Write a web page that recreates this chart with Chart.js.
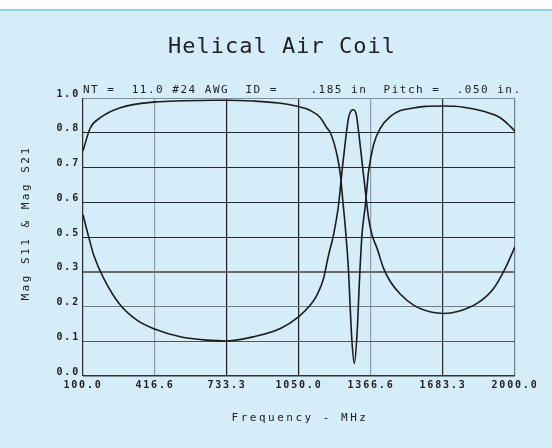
<!DOCTYPE html>
<html>
<head>
<meta charset="utf-8">
<script src="https://cdn.jsdelivr.net/npm/chart.js@4"></script>
<style>
    body { margin: 0; background: #d5ecf9; }
    canvas { display: block; }
</style>
</head>
<body>
<canvas id="coilChart" width="552" height="448"></canvas>
<script>
// Axis ticks (labels truncated to one decimal, as the plotter printed them)
const xTickLabels = ['100.0', '416.6', '733.3', '1050.0', '1366.6', '1683.3', '2000.0'];
const yTickLabels = ['0.0', '0.1', '0.2', '0.3', '0.5', '0.6', '0.7', '0.8', '1.0'];
const xMin = 100, xMax = 2000;
const yMin = 0, yMax = 1;

// Mag S21 (transmission)
const freqS21 = [100, 132, 176, 264, 418, 540, 673, 735, 850, 960, 1043, 1100, 1144, 1173, 1188,
    1217, 1232, 1243, 1254, 1268, 1276, 1283, 1293, 1305, 1317, 1327, 1342, 1356, 1378, 1408,
    1452, 1496, 1539, 1605, 1685, 1774, 1862, 1935, 1979, 2000];
const magS21 = [0.81, 0.892, 0.929, 0.965, 0.986, 0.990, 0.992, 0.992, 0.989, 0.982, 0.970, 0.955, 0.929, 0.892, 0.875,
    0.796, 0.724, 0.628, 0.532, 0.375, 0.231, 0.123, 0.045, 0.147, 0.363, 0.508, 0.616, 0.736, 0.832, 0.892,
    0.934, 0.955, 0.962, 0.970, 0.971, 0.967, 0.952, 0.929, 0.898, 0.880];

// Mag S11 (reflection)
const freqS11 = [100, 125, 147, 191, 264, 337, 418, 528, 645, 733, 850, 968, 1048, 1100, 1129,
    1158, 1180, 1202, 1224, 1239, 1254, 1268, 1280, 1289, 1302, 1312, 1327, 1342, 1356, 1371,
    1393, 1422, 1452, 1496, 1554, 1635, 1686, 1752, 1833, 1906, 1957, 2000];
const magS11 = [0.58, 0.50, 0.435, 0.351, 0.255, 0.201, 0.168, 0.141, 0.129, 0.126, 0.141, 0.171, 0.213, 0.255, 0.291,
    0.351, 0.435, 0.508, 0.616, 0.736, 0.844, 0.929, 0.955, 0.958, 0.940, 0.880, 0.772, 0.664, 0.568, 0.508,
    0.460, 0.387, 0.339, 0.294, 0.255, 0.229, 0.225, 0.233, 0.261, 0.315, 0.387, 0.465];

const xGridColors = ['#2a2a2a', '#8c9ea8', '#1e1e1e', '#1e1e1e', '#8c9ea8', '#2a2a2a', '#6f7f88'];
const yGridColors = ['#333333', '#555555', '#7a7a7a', '#6a6a6a', '#2a2a2a', '#2a2a2a', '#2a2a2a', '#2a2a2a', '#7f8f99'];
const yGridWidths = [1.5, 1, 1, 2, 1, 1, 1, 1, 1];

const toPoints = (xs, ys) => xs.map((x, i) => ({ x: x, y: ys[i] }));
const evenTicks = (labels, min, max) => labels.map((_, i) => ({ value: min + i * (max - min) / (labels.length - 1) }));

const monoFont = '"DejaVu Sans Mono", "Liberation Mono", monospace';

const backdrop = {
    id: 'backdrop',
    beforeDraw(chart) {
        const ctx = chart.ctx;
        ctx.save();
        ctx.fillStyle = '#d5ecf9';
        ctx.fillRect(0, 0, chart.width, chart.height);
        ctx.fillStyle = '#ffffff';
        ctx.fillRect(0, 0, chart.width, 9);
        ctx.fillStyle = '#7dd3f0';
        ctx.fillRect(0, 9, chart.width, 2);
        ctx.restore();
        // spaced-out plotter lettering for the tick labels
        ctx.letterSpacing = '1.8px';
    }
};

const captions = {
    id: 'captions',
    afterDraw(chart) {
        const ctx = chart.ctx;
        ctx.save();
        ctx.fillStyle = '#222222';

        ctx.font = '22px ' + monoFont;
        ctx.letterSpacing = '1px';
        ctx.textAlign = 'center';
        ctx.textBaseline = 'alphabetic';
        ctx.fillText('Helical Air Coil', 282, 53);

        ctx.font = '11px ' + monoFont;
        ctx.letterSpacing = '1.5px';
        ctx.textAlign = 'left';
        ctx.textBaseline = 'middle';
        ctx.fillText('NT =  11.0 #24 AWG  ID =    .185 in  Pitch =  .050 in.', 83, 90);

        ctx.letterSpacing = '2.5px';
        ctx.textAlign = 'center';
        ctx.fillText('Frequency - MHz', 300, 418);

        ctx.translate(26, 223);
        ctx.rotate(-Math.PI / 2);
        ctx.fillText('Mag S11 & Mag S21', 0, 0);
        ctx.restore();
    }
};

const lineStyle = {
    showLine: true,
    borderColor: '#1c1c1c',
    borderWidth: 1.6,
    pointRadius: 0,
    fill: false,
    cubicInterpolationMode: 'monotone'
};

new Chart(document.getElementById('coilChart'), {
    type: 'scatter',
    data: {
        datasets: [
            { label: 'Mag S21', data: toPoints(freqS21, magS21), ...lineStyle },
            { label: 'Mag S11', data: toPoints(freqS11, magS11), ...lineStyle }
        ]
    },
    options: {
        responsive: false,
        animation: false,
        layout: { padding: { top: 98, right: 37, left: 0, bottom: 0 } },
        plugins: {
            legend: { display: false },
            tooltip: { enabled: false }
        },
        scales: {
            x: {
                type: 'linear',
                min: xMin,
                max: xMax,
                afterBuildTicks: scale => { scale.ticks = evenTicks(xTickLabels, xMin, xMax); },
                afterFit: scale => { scale.height = 72; },
                border: { display: false },
                grid: {
                    drawTicks: false,
                    color: ctx => xGridColors[ctx.index] || '#333',
                    lineWidth: 1.2
                },
                ticks: {
                    autoSkip: false,
                    maxRotation: 0,
                    padding: 3,
                    color: '#222222',
                    font: { family: monoFont, size: 10, weight: 'bold' },
                    callback: (v, i) => xTickLabels[i]
                }
            },
            y: {
                min: yMin,
                max: yMax,
                afterBuildTicks: scale => { scale.ticks = evenTicks(yTickLabels, yMin, yMax); },
                afterFit: scale => { scale.width = 83; },
                border: { display: false },
                grid: {
                    drawTicks: false,
                    color: ctx => yGridColors[ctx.index] || '#333',
                    lineWidth: ctx => yGridWidths[ctx.index] || 1
                },
                ticks: {
                    autoSkip: false,
                    padding: 3,
                    labelOffset: -4,
                    color: '#222222',
                    font: { family: monoFont, size: 10, weight: 'bold' },
                    callback: (v, i) => yTickLabels[i]
                }
            }
        }
    },
    plugins: [backdrop, captions]
});
</script>
</body>
</html>
